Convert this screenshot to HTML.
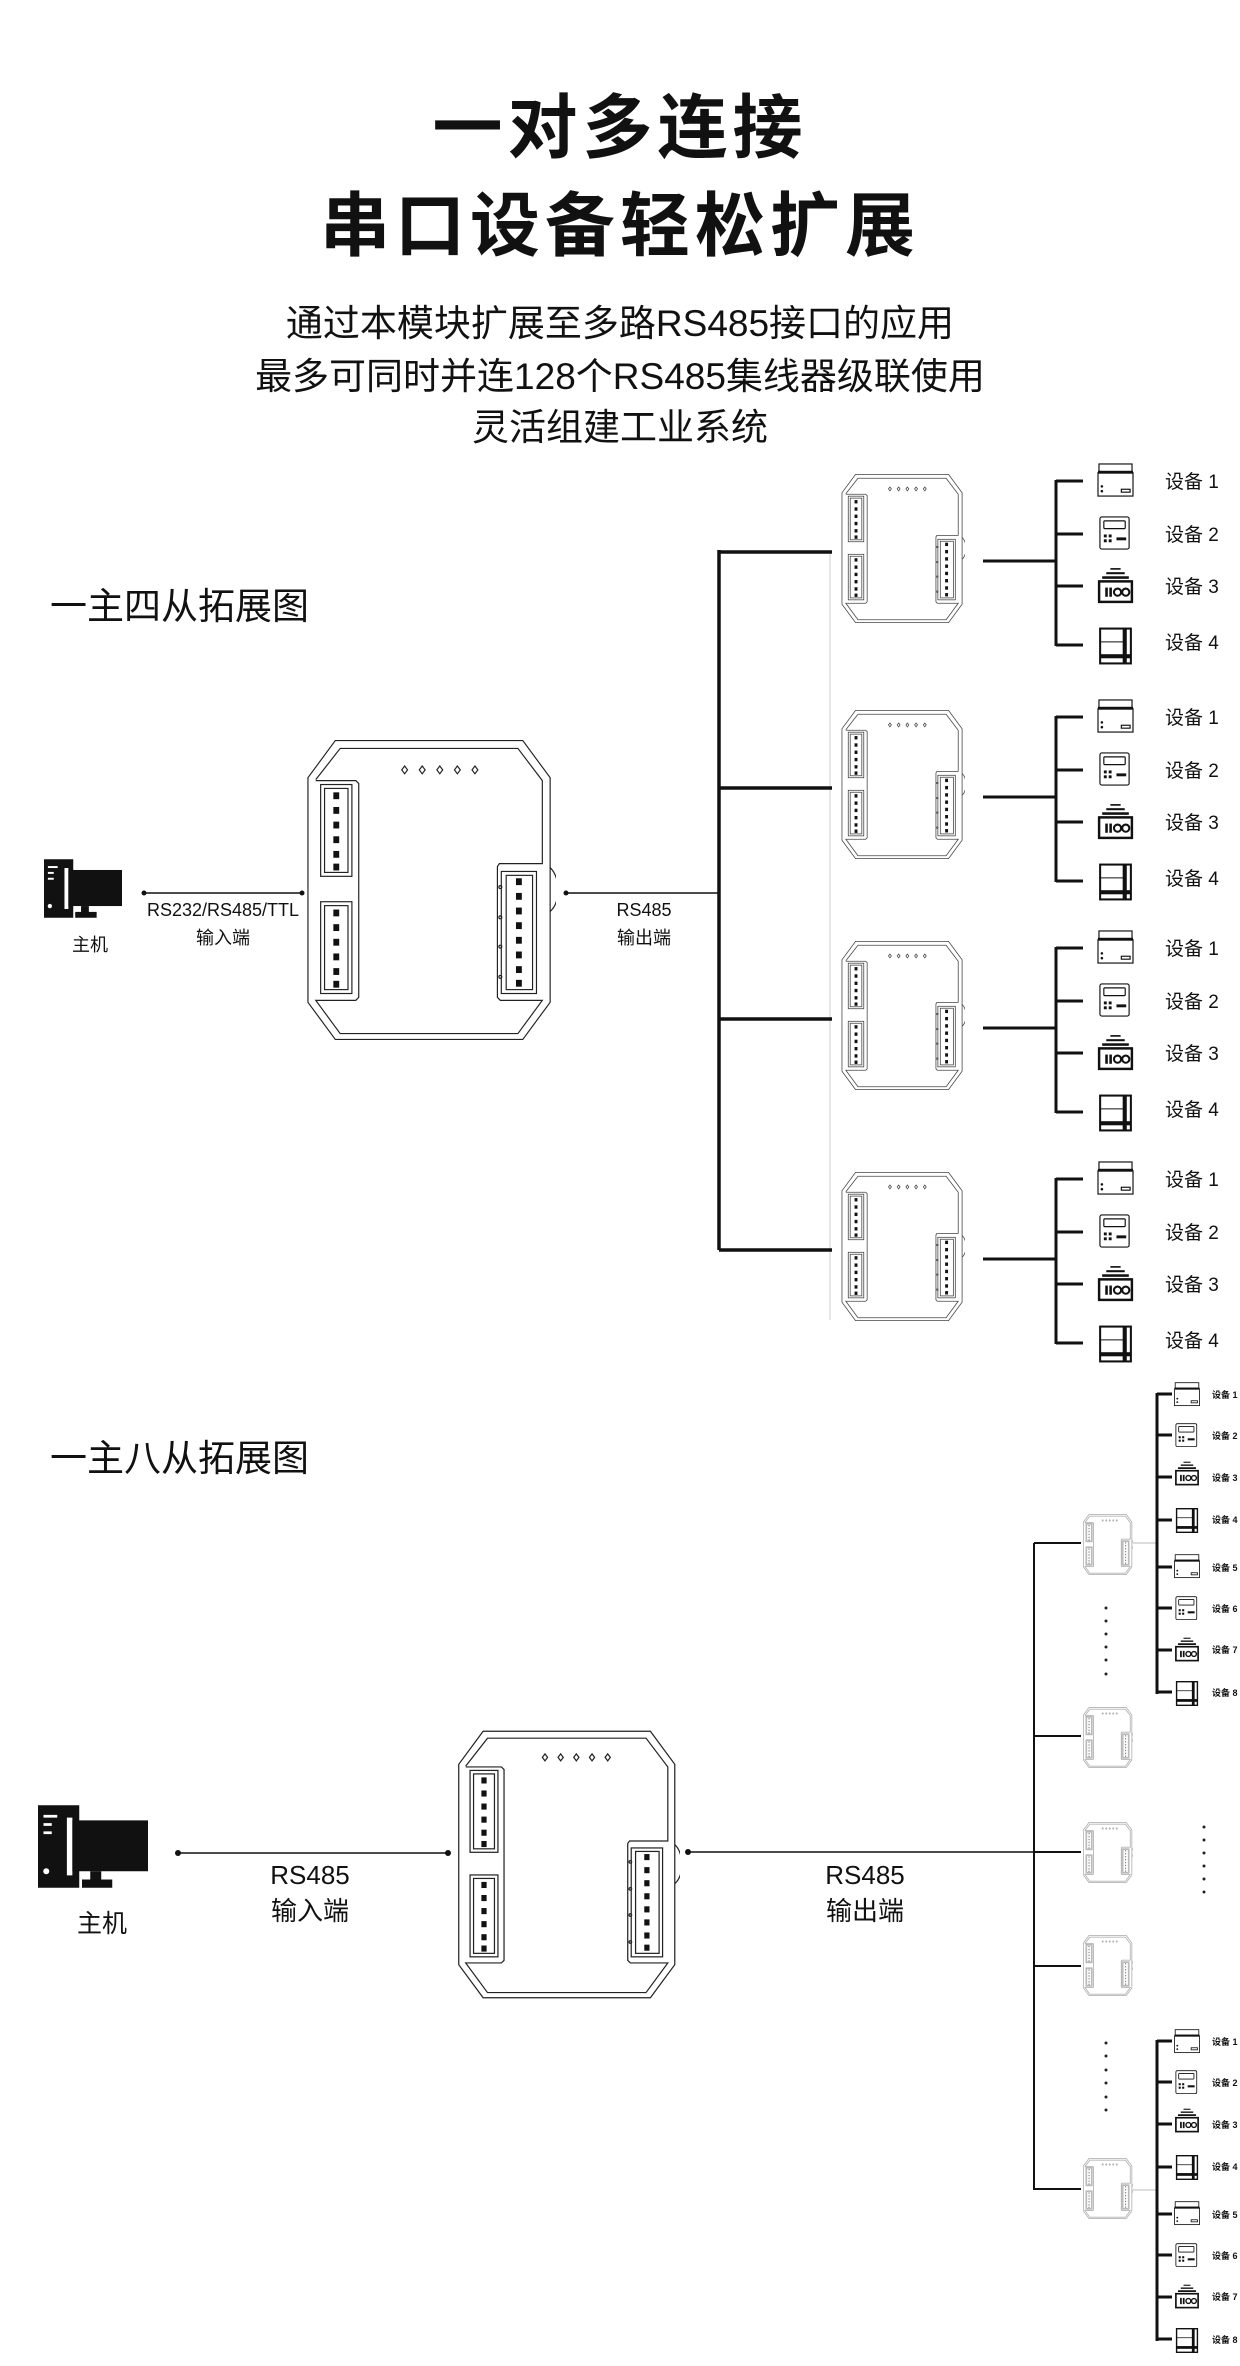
<!DOCTYPE html>
<html><head><meta charset="utf-8">
<style>
html,body{margin:0;padding:0;background:#fff;}
svg{display:block;}
text{font-family:"Liberation Sans","Noto Sans CJK SC",sans-serif;fill:#111;}
</style></head>
<body>
<svg width="1240" height="2366" viewBox="0 0 1240 2366" xmlns="http://www.w3.org/2000/svg">
<defs>
<symbol id="mod" viewBox="0 0 256 310">
<g fill="none">
<path d="M2,40 L30,2 L222,2 L250,40 L250,270 L222,308 L30,308 L2,270 Z"/>
<path d="M10,42 L35,10 L217,10 L242,43 L242,128 L198,128 L196,131 L196,265 L199,268 L242,268 L217,302 L35,302 L10,268 L51,268 L54,265 L54,46 L51,43 L10,43"/>
<rect x="15" y="47" width="32" height="94"/><rect x="19" y="51" width="24" height="86"/>
<rect x="15" y="167" width="32" height="94"/><rect x="19" y="171" width="24" height="86"/>
<rect x="200" y="136" width="36" height="125"/><rect x="205" y="140" width="27" height="117"/>
<path d="M250,132 Q258,140 258,155 Q258,170 250,177"/>
<path d="M101,28 L104,32 L101,36 L98,32 Z M119,28 L122,32 L119,36 L116,32 Z M137,28 L140,32 L137,36 L134,32 Z M155,28 L158,32 L155,36 L152,32 Z M173,28 L176,32 L173,36 L170,32 Z"/>
<circle cx="199" cy="152" r="1.5"/><circle cx="199" cy="183" r="1.5"/><circle cx="199" cy="213" r="1.5"/><circle cx="199" cy="244" r="1.5"/>
</g>
<g stroke="none" class="pin">
<rect x="28" y="55" width="6" height="7"/><rect x="28" y="70" width="6" height="7"/><rect x="28" y="85" width="6" height="7"/><rect x="28" y="100" width="6" height="7"/><rect x="28" y="115" width="6" height="7"/><rect x="28" y="128" width="6" height="7"/>
<rect x="28" y="175" width="6" height="7"/><rect x="28" y="190" width="6" height="7"/><rect x="28" y="205" width="6" height="7"/><rect x="28" y="220" width="6" height="7"/><rect x="28" y="235" width="6" height="7"/><rect x="28" y="248" width="6" height="7"/>
<rect x="215" y="143" width="6" height="7"/><rect x="215" y="158" width="6" height="7"/><rect x="215" y="173" width="6" height="7"/><rect x="215" y="188" width="6" height="7"/><rect x="215" y="203" width="6" height="7"/><rect x="215" y="218" width="6" height="7"/><rect x="215" y="233" width="6" height="7"/><rect x="215" y="247" width="6" height="7"/>
</g>
</symbol>
<symbol id="d1" viewBox="0 0 40 36"><g fill="none" stroke="#111" stroke-width="1.2"><rect x="3" y="1" width="34" height="8"/><rect x="2" y="10" width="36" height="24"/><rect x="26" y="27" width="9" height="3"/></g><rect x="2" y="8" width="36" height="3" fill="#111"/><circle cx="6" cy="24" r="1.3" fill="#111"/><circle cx="6" cy="29" r="1.3" fill="#111"/></symbol>
<symbol id="d2" viewBox="0 0 40 36"><g fill="none" stroke="#111" stroke-width="1.2"><rect x="4" y="1" width="30" height="33" rx="2"/><rect x="8" y="5" width="22" height="8" rx="1"/></g><g fill="#111"><rect x="8" y="19" width="3" height="3"/><rect x="13" y="19" width="3" height="3"/><rect x="8" y="24" width="3" height="3"/><rect x="13" y="24" width="3" height="3"/><rect x="21" y="22" width="10" height="3"/></g></symbol>
<symbol id="d3" viewBox="0 0 40 36"><g fill="#111"><rect x="15" y="1" width="10" height="1.6"/><rect x="11" y="5" width="18" height="2"/><rect x="7" y="9" width="26" height="2.5"/><rect x="4" y="13" width="32" height="2"/><rect x="10" y="20" width="2.5" height="9"/><rect x="14" y="20" width="2.5" height="9"/></g><g fill="none" stroke="#111"><rect x="4" y="14" width="32" height="20" stroke-width="2.4"/><circle cx="22" cy="24.5" r="3.5" stroke-width="2"/><circle cx="30" cy="24.5" r="3.5" stroke-width="2"/></g></symbol>
<symbol id="d4" viewBox="0 0 40 36"><g fill="none" stroke="#111" stroke-width="2"><rect x="5" y="1" width="30" height="34"/><line x1="28" y1="1" x2="28" y2="35"/><line x1="5" y1="14" x2="28" y2="14" stroke-width="1"/></g><rect x="5" y="26" width="30" height="4" fill="#111"/><rect x="28" y="1" width="3" height="34" fill="#111"/></symbol>
<symbol id="host" viewBox="0 0 80 60"><rect x="0" y="0" width="30" height="60" fill="#111"/><g fill="#fff"><rect x="4" y="7" width="10" height="2"/><rect x="4" y="13" width="6" height="2"/><rect x="4" y="19" width="6" height="2"/><circle cx="6" cy="48" r="2.2"/><rect x="21" y="9" width="4" height="42"/></g><rect x="25" y="11" width="55" height="37" fill="#111"/><rect x="38" y="48" width="8" height="8" fill="#111"/><rect x="32" y="54" width="22" height="6" fill="#111"/></symbol>
</defs>

<!-- Titles -->
<text x="620" y="152" font-size="70" font-weight="bold" text-anchor="middle" letter-spacing="5">一对多连接</text>
<text x="620" y="250" font-size="70" font-weight="bold" text-anchor="middle" letter-spacing="5">串口设备轻松扩展</text>
<text x="620" y="336" font-size="37" text-anchor="middle">通过本模块扩展至多路RS485接口的应用</text>
<text x="620" y="389" font-size="37" text-anchor="middle">最多可同时并连128个RS485集线器级联使用</text>
<text x="620" y="440" font-size="37" text-anchor="middle">灵活组建工业系统</text>

<!-- Section 1 -->
<text x="50" y="619" font-size="37">一主四从拓展图</text>
<use href="#host" x="44" y="859" width="78" height="59"/>
<text x="90" y="951" font-size="18" text-anchor="middle">主机</text>
<line x1="144" y1="893" x2="302" y2="893" stroke="#111" stroke-width="1.5"/>
<circle cx="144" cy="893" r="2.5" fill="#111"/><circle cx="302" cy="893" r="2.5" fill="#111"/>
<text x="223" y="916" font-size="18" text-anchor="middle">RS232/RS485/TTL</text>
<text x="223" y="944" font-size="18" text-anchor="middle">输入端</text>
<use href="#mod" x="306" y="735" width="250" height="310" stroke="#222" stroke-width="1.2" fill="#111"/>
<line x1="566" y1="893" x2="719" y2="893" stroke="#111" stroke-width="1.5"/>
<circle cx="566" cy="893" r="2.5" fill="#111"/>
<text x="644" y="916" font-size="18" text-anchor="middle">RS485</text>
<text x="644" y="944" font-size="18" text-anchor="middle">输出端</text>
<line x1="719" y1="550" x2="719" y2="1250" stroke="#111" stroke-width="3.5"/>
<line x1="830" y1="553" x2="830" y2="1320" stroke="#ccc" stroke-width="1"/>

<g id="g1">
<line x1="719" y1="552" x2="832" y2="552" stroke="#111" stroke-width="3.5"/>
<use href="#mod" x="841" y="473" width="124" height="151" stroke="#444" stroke-width="1.6" fill="#111"/>
<line x1="983" y1="561" x2="1056" y2="561" stroke="#111" stroke-width="3"/>
<line x1="1056" y1="480" x2="1056" y2="646" stroke="#111" stroke-width="3"/>
<line x1="1056" y1="481" x2="1083" y2="481" stroke="#111" stroke-width="3"/>
<line x1="1056" y1="534" x2="1083" y2="534" stroke="#111" stroke-width="3"/>
<line x1="1056" y1="586" x2="1083" y2="586" stroke="#111" stroke-width="3"/>
<line x1="1056" y1="645" x2="1083" y2="645" stroke="#111" stroke-width="3"/>
<use href="#d1" x="1095" y="463" width="41" height="35"/>
<use href="#d2" x="1095" y="516" width="41" height="35"/>
<use href="#d3" x="1095" y="567" width="41" height="37"/>
<use href="#d4" x="1095" y="627" width="41" height="38"/>
<text x="1165" y="488" font-size="19">设备 1</text>
<text x="1165" y="541" font-size="19">设备 2</text>
<text x="1165" y="593" font-size="19">设备 3</text>
<text x="1165" y="649" font-size="19">设备 4</text>
</g>
<use href="#g1" x="0" y="236"/>
<use href="#g1" x="0" y="467"/>
<use href="#g1" x="0" y="698"/>

<!-- Section 2 -->
<text x="50" y="1471" font-size="37">一主八从拓展图</text>
<use href="#host" x="38" y="1805" width="110" height="83"/>
<text x="102" y="1932" font-size="25" text-anchor="middle">主机</text>
<line x1="178" y1="1853" x2="448" y2="1853" stroke="#111" stroke-width="1.5"/>
<circle cx="178" cy="1853" r="3" fill="#111"/><circle cx="448" cy="1853" r="3" fill="#111"/>
<text x="310" y="1884" font-size="26" text-anchor="middle">RS485</text>
<text x="310" y="1920" font-size="26" text-anchor="middle">输入端</text>
<use href="#mod" x="457" y="1726" width="223" height="277" stroke="#222" stroke-width="1.4" fill="#111"/>
<line x1="688" y1="1852" x2="1034" y2="1852" stroke="#111" stroke-width="1.5"/>
<circle cx="688" cy="1852" r="3" fill="#111"/>
<text x="865" y="1884" font-size="26" text-anchor="middle">RS485</text>
<text x="865" y="1920" font-size="26" text-anchor="middle">输出端</text>

<line x1="1034" y1="1543" x2="1034" y2="2190" stroke="#111" stroke-width="2"/>
<g stroke="#111" stroke-width="2">
<line x1="1034" y1="1543" x2="1081" y2="1543"/>
<line x1="1034" y1="1736" x2="1081" y2="1736"/>
<line x1="1034" y1="1852" x2="1081" y2="1852"/>
<line x1="1034" y1="1966" x2="1081" y2="1966"/>
<line x1="1034" y1="2189" x2="1081" y2="2189"/>
</g>
<g stroke="#b5b5b5" stroke-width="4.5" fill="#888">
<use href="#mod" x="1083" y="1514" width="50" height="61"/>
<use href="#mod" x="1083" y="1707" width="50" height="61"/>
<use href="#mod" x="1083" y="1822" width="50" height="61"/>
<use href="#mod" x="1083" y="1935" width="50" height="61"/>
<use href="#mod" x="1083" y="2158" width="50" height="61"/>
</g>
<g fill="#222">
<circle cx="1106" cy="1608" r="1.5"/><circle cx="1106" cy="1621" r="1.5"/><circle cx="1106" cy="1634" r="1.5"/><circle cx="1106" cy="1647" r="1.5"/><circle cx="1106" cy="1660" r="1.5"/><circle cx="1106" cy="1674" r="1.5"/>
<circle cx="1106" cy="2043" r="1.5"/><circle cx="1106" cy="2056" r="1.5"/><circle cx="1106" cy="2070" r="1.5"/><circle cx="1106" cy="2083" r="1.5"/><circle cx="1106" cy="2097" r="1.5"/><circle cx="1106" cy="2110" r="1.5"/>
<circle cx="1204" cy="1827" r="1.5"/><circle cx="1204" cy="1840" r="1.5"/><circle cx="1204" cy="1853" r="1.5"/><circle cx="1204" cy="1866" r="1.5"/><circle cx="1204" cy="1879" r="1.5"/><circle cx="1204" cy="1892" r="1.5"/>
</g>

<g id="col">
<line x1="1133" y1="1543" x2="1157" y2="1543" stroke="#bbb" stroke-width="1"/>
<line x1="1157" y1="1393" x2="1157" y2="1694" stroke="#111" stroke-width="3"/>
<g stroke="#111" stroke-width="3">
<line x1="1157" y1="1394" x2="1172" y2="1394"/><line x1="1157" y1="1435" x2="1172" y2="1435"/>
<line x1="1157" y1="1477" x2="1172" y2="1477"/><line x1="1157" y1="1520" x2="1172" y2="1520"/>
<line x1="1157" y1="1567" x2="1172" y2="1567"/><line x1="1157" y1="1608" x2="1172" y2="1608"/>
<line x1="1157" y1="1650" x2="1172" y2="1650"/><line x1="1157" y1="1692" x2="1172" y2="1692"/>
</g>
<use href="#d1" x="1173" y="1382" width="28" height="25"/>
<use href="#d2" x="1173" y="1423" width="28" height="25"/>
<use href="#d3" x="1173" y="1461" width="28" height="25"/>
<use href="#d4" x="1173" y="1508" width="28" height="25"/>
<use href="#d1" x="1173" y="1554" width="28" height="25"/>
<use href="#d2" x="1173" y="1596" width="28" height="25"/>
<use href="#d3" x="1173" y="1637" width="28" height="25"/>
<use href="#d4" x="1173" y="1681" width="28" height="25"/>
<g font-size="9" font-weight="bold">
<text x="1212" y="1398">设备 1</text><text x="1212" y="1439">设备 2</text>
<text x="1212" y="1481">设备 3</text><text x="1212" y="1523">设备 4</text>
<text x="1212" y="1571">设备 5</text><text x="1212" y="1612">设备 6</text>
<text x="1212" y="1653">设备 7</text><text x="1212" y="1696">设备 8</text>
</g>
</g>
<use href="#col" x="0" y="647"/>
</svg>
</body></html>
